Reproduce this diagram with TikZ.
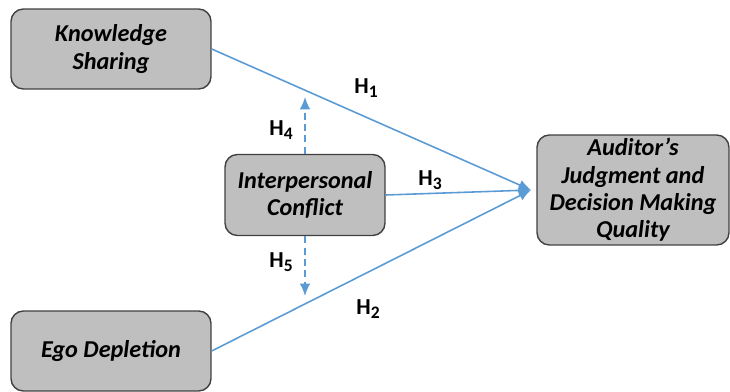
\documentclass[tikz,border=0pt]{standalone}
\usepackage{fontspec}
\setmainfont{Carlito}
\usetikzlibrary{arrows.meta}
\definecolor{linkblue}{RGB}{91,155,213}
\definecolor{boxgray}{RGB}{191,191,191}
\definecolor{boxline}{RGB}{64,64,64}
\newcommand{\hname}[1]{H\raisebox{-0.3ex}{\fontsize{10}{10}\selectfont #1}}

\begin{document}
\begin{tikzpicture}[x=0.02cm, y=-0.02cm,
  varbox/.style={draw=boxline, fill=boxgray, rounded corners=7pt, line width=0.8pt, align=center, inner sep=0pt, font=\fontsize{13.8}{15.5}\selectfont\bfseries\itshape},
  link/.style={draw=linkblue, line width=0.9pt, -{Latex[length=7pt,width=6pt]}},
  modlink/.style={link, dash pattern=on 4pt off 2.5pt},
  hlabel/.style={font=\fontsize{13}{13}\selectfont\bfseries}]
\useasboundingbox (0,0) rectangle (730,392);
% variables
\node[varbox, minimum width=4cm, minimum height=1.6cm] (ks) at (111,49) {Knowledge\\Sharing};
\node[varbox, minimum width=4cm, minimum height=1.6cm] (ed) at (111,351) {Ego Depletion};
\node[varbox, minimum width=3.2cm, minimum height=1.62cm] (ic) at (305,195) {Interpersonal\\Conflict};
\node[varbox, minimum width=3.84cm, minimum height=2.2cm] (aq) at (633,190) {Auditor’s\\Judgment and\\Decision Making\\Quality};
\coordinate (meet) at (531,190);
\coordinate (up) at (305,97);
\coordinate (down) at (305,296);
% paths
\draw[link] (ks.east) -- (meet);
\draw[link] (ed.east) -- (meet);
\draw[link] (ic.east) -- (meet);
\draw[modlink] (ic.north) -- (up);
\draw[modlink] (ic.south) -- (down);
% hypotheses
\node[hlabel] (h1) at (366,88) {\hname{1}};
\node[hlabel] (h2) at (368,309) {\hname{2}};
\node[hlabel] (h3) at (430,180) {\hname{3}};
\node[hlabel] (h4) at (281,130) {\hname{4}};
\node[hlabel] (h5) at (281,262) {\hname{5}};
\end{tikzpicture}
\end{document}
